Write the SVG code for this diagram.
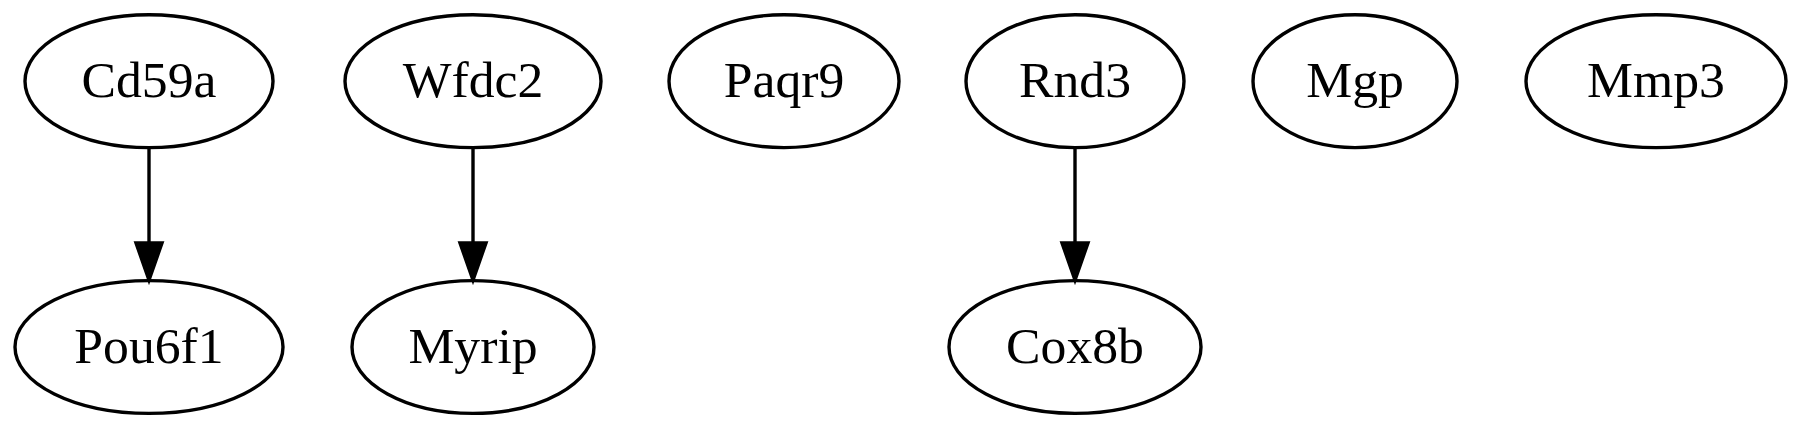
<svg xmlns="http://www.w3.org/2000/svg" width="1800" height="428" viewBox="0 0 1800 428">
<style>
.n ellipse{fill:none;stroke:#000;stroke-width:3.4}
.n text{font-family:"Liberation Serif","Times New Roman",serif;font-size:51.7px;text-anchor:middle;fill:#000}
.e line{stroke:#000;stroke-width:3.4}
.e polygon{fill:#000;stroke:#000;stroke-width:3.4}
</style>
<rect width="1800" height="428" fill="#fff"/>
<g id="connectors" class="e">
<line x1="149" y1="147.6" x2="149" y2="243"/>
<polygon points="136,243 162,243 149,280"/>
<line x1="473" y1="147.6" x2="473" y2="243"/>
<polygon points="460,243 486,243 473,280"/>
<line x1="1075" y1="147.6" x2="1075" y2="243"/>
<polygon points="1062,243 1088,243 1075,280"/>
</g>
<g id="Cd59a" class="n"><ellipse cx="149" cy="81.2" rx="124" ry="66.4"/><text x="149" y="96.7">Cd59a</text></g>
<g id="Pou6f1" class="n"><ellipse cx="149" cy="347" rx="134" ry="66.4"/><text x="149" y="362.5">Pou6f1</text></g>
<g id="Wfdc2" class="n"><ellipse cx="473" cy="81.2" rx="128" ry="66.4"/><text x="473" y="96.7">Wfdc2</text></g>
<g id="Myrip" class="n"><ellipse cx="473" cy="347" rx="121" ry="66.4"/><text x="473" y="362.5">Myrip</text></g>
<g id="Paqr9" class="n"><ellipse cx="784" cy="81.2" rx="115" ry="66.4"/><text x="784" y="96.7">Paqr9</text></g>
<g id="Rnd3" class="n"><ellipse cx="1075" cy="81.2" rx="109" ry="66.4"/><text x="1075" y="96.7">Rnd3</text></g>
<g id="Cox8b" class="n"><ellipse cx="1075" cy="347" rx="126" ry="66.4"/><text x="1075" y="362.5">Cox8b</text></g>
<g id="Mgp" class="n"><ellipse cx="1355" cy="81.2" rx="102" ry="66.4"/><text x="1355" y="96.7">Mgp</text></g>
<g id="Mmp3" class="n"><ellipse cx="1656" cy="81.2" rx="130" ry="66.4"/><text x="1656" y="96.7">Mmp3</text></g>
</svg>
